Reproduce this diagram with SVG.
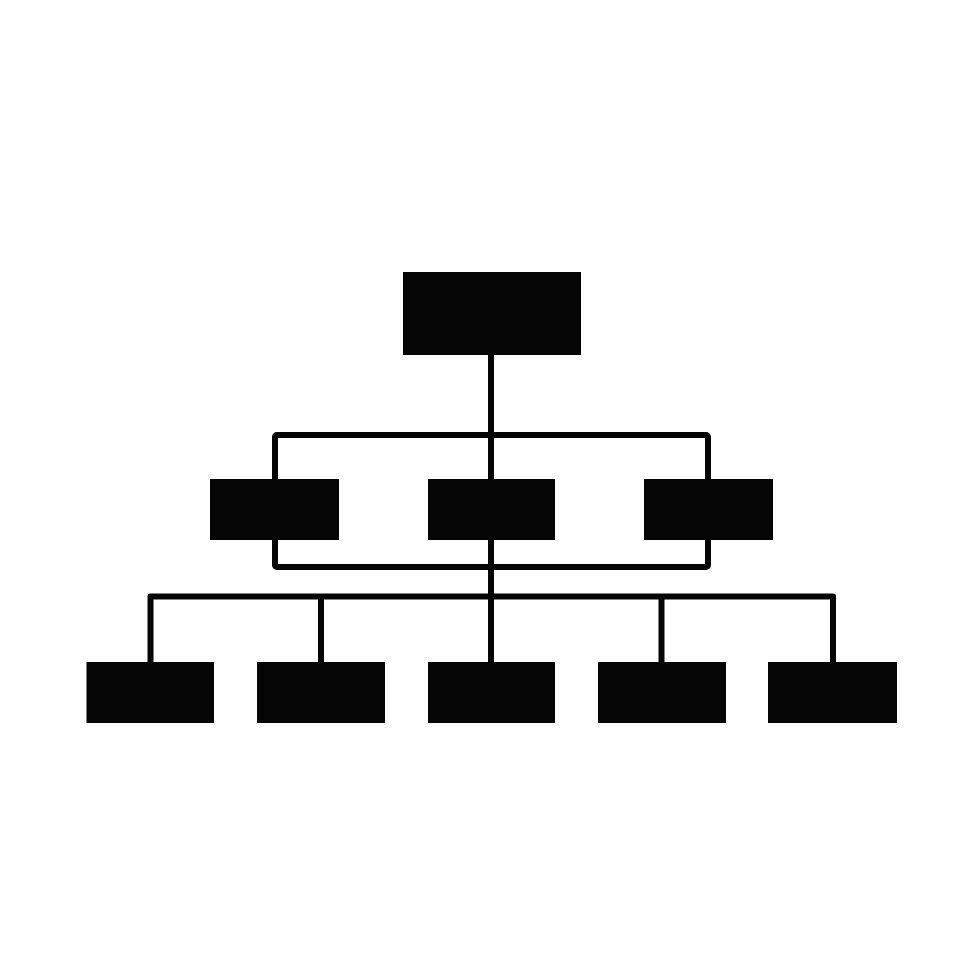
<svg xmlns="http://www.w3.org/2000/svg" width="980" height="980" viewBox="0 0 980 980">
<style>
.box{fill:#050505}
.ln{fill:none;stroke:#050505;stroke-width:6;stroke-linejoin:round;stroke-linecap:butt}
</style>
<rect width="980" height="980" fill="#fff"/>
<g id="connectors">
<line class="ln" x1="491" y1="355" x2="491" y2="662"/>
<rect class="ln" x="275" y="435" width="433" height="132" rx="2"/>
<path class="ln" d="M150.5 662 V596.5 H833 V662"/>
<line class="ln" x1="321" y1="596.5" x2="321" y2="662"/>
<line class="ln" x1="661.5" y1="596.5" x2="661.5" y2="662"/>
</g>
<g id="root"><rect class="box" x="403" y="272" width="178" height="83"/></g>
<g id="mid-left"><rect class="box" x="210" y="479" width="129" height="61"/></g>
<g id="mid-center"><rect class="box" x="428" y="479" width="127" height="61"/></g>
<g id="mid-right"><rect class="box" x="644" y="479" width="129" height="61"/></g>
<g id="bottom-1"><rect class="box" x="86.5" y="662" width="127.5" height="61"/></g>
<g id="bottom-2"><rect class="box" x="257" y="662" width="128" height="61"/></g>
<g id="bottom-3"><rect class="box" x="428" y="662" width="127" height="61"/></g>
<g id="bottom-4"><rect class="box" x="598" y="662" width="128" height="61"/></g>
<g id="bottom-5"><rect class="box" x="768" y="662" width="129" height="61"/></g>
</svg>
